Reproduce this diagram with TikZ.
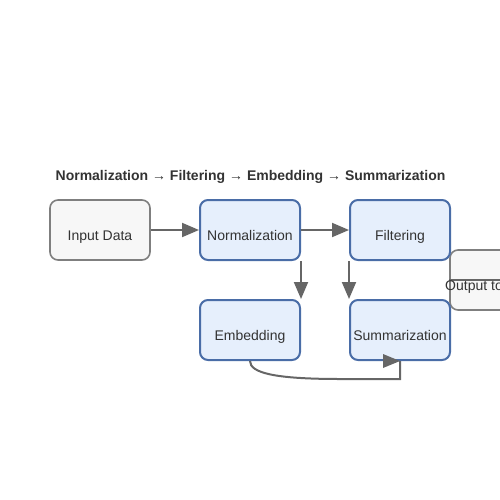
\documentclass[tikz,border=0pt]{standalone}
\usepackage{fontspec}
\setmainfont{Liberation Sans}
\usetikzlibrary{arrows.meta}
\definecolor{txt}{HTML}{333333}
\definecolor{bluefill}{HTML}{E6EFFC}
\definecolor{blueline}{HTML}{4A6DA7}
\definecolor{grayfill}{HTML}{F7F7F7}
\definecolor{grayline}{HTML}{7F7F7F}
\definecolor{arrowc}{HTML}{666666}
\tikzset{
  bluebox/.style={draw=blueline, fill=bluefill, line width=2pt, rounded corners=8pt, minimum width=100pt, minimum height=60pt, inner sep=0pt},
  graybox/.style={draw=grayline, fill=grayfill, line width=1.6pt, rounded corners=8pt, minimum width=100pt, minimum height=60pt, inner sep=0pt},
  lbl/.style={text=txt, font=\fontsize{14pt}{16pt}\selectfont, inner sep=0pt, anchor=base},
  conn/.style={draw=arrowc, line width=2pt, -{Triangle[length=17pt,width=14pt]}},
  plain/.style={draw=arrowc, line width=2pt},
}
\begin{document}
\begin{tikzpicture}[x=1pt,y=-1pt]
\useasboundingbox (0,0) rectangle (500,500);
\node[lbl, font=\fontsize{14pt}{16pt}\selectfont\bfseries] (title) at (250.5,180) {Normalization → Filtering → Embedding → Summarization};
% output box (partly outside)
\node[graybox] (out) at (500,280) {};
\draw[plain, line width=1.5pt] (out.west) -- (out.center);
\node[lbl, anchor=base west] (outl) at (445,290) {Output to};
% boxes
\node[graybox] (inp) at (100,230) {};
\node[bluebox] (norm) at (250,230) {};
\node[bluebox] (filt) at (400,230) {};
\node[bluebox] (emb) at (250,330) {};
\node[bluebox] (summ) at (400,330) {};
\node[lbl] (inpl) at (100,240) {Input Data};
\node[lbl] (norml) at (250,240) {Normalization};
\node[lbl] (filtl) at (400,240) {Filtering};
\node[lbl] (embl) at (250,340) {Embedding};
\node[lbl] (summl) at (400,340) {Summarization};
% connectors
\draw[conn] (inp.east) -- (norm.west);
\draw[conn] (norm.east) -- (filt.west);
\draw[conn] (norm.south east) -- (emb.north east);
\draw[conn] (filt.south west) -- (summ.north west);
\coordinate (bend) at (400,379);
\draw[plain] (emb.south) .. controls (250,373) and (275,379) .. (340,379) -- (bend) -- (summ.south);
\fill[arrowc] (summ.south) -- ++(-17,-7) -- ++(0,14) -- cycle;
\end{tikzpicture}
\end{document}
